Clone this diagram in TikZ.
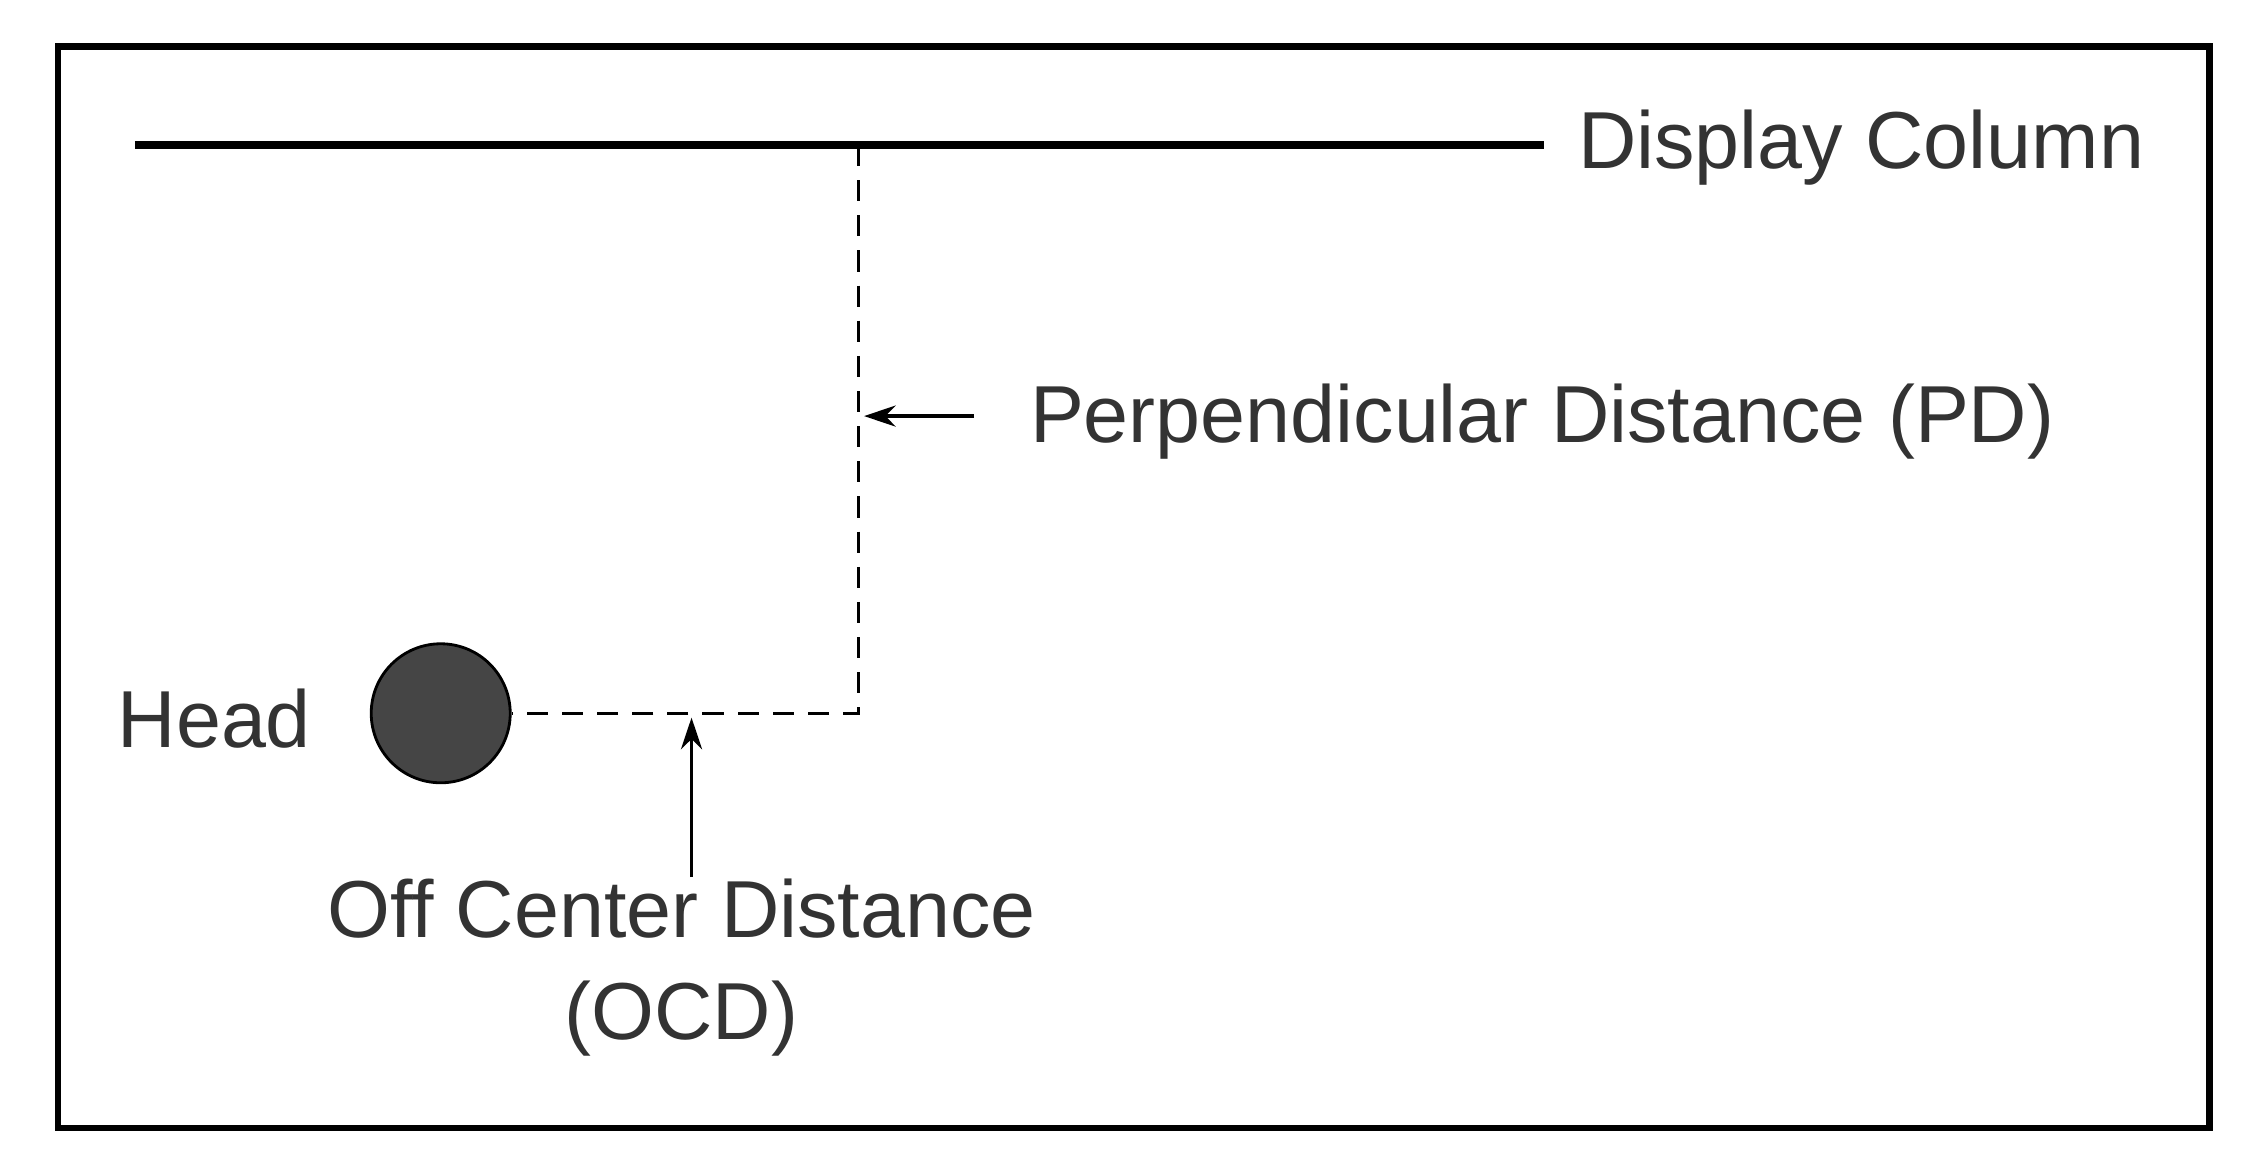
\documentclass[tikz,border=0pt]{standalone}
\usepackage{fontspec}
\setmainfont{Liberation Sans}
\usetikzlibrary{arrows.meta}
\begin{document}
\begin{tikzpicture}[x=0.014497cm,y=-0.014497cm,
  lbl/.style={font=\fontsize{23}{27}\selectfont,text=black!80,inner sep=0pt},
  dsh/.style={line width=1pt,dash pattern=on 6pt off 4pt},
  arr/.style={-{Stealth[length=9pt,width=6pt]},line width=1pt}]
\useasboundingbox (0,0) rectangle (1552,795);
\fill[white] (0,0) rectangle (1552,795);
\draw[line width=1.8pt] (40,32) rectangle (1524,778);
\coordinate (l1) at (93,100);
\coordinate (l2) at (1065,100);
\coordinate (top) at (592,100);
\coordinate (corner) at (592,492);
\draw[line width=2.2pt] (l1) -- (l2);
\node[lbl,anchor=west] (dc) at (1088,102) {Display Column};
\node[circle,draw,line width=0.8pt,fill=black!73,inner sep=0pt,minimum size=1.39cm] (head) at (304,492) {};
\node[lbl,anchor=east] (hl) at (215,496) {Head};
\draw[dsh] (top) -- (corner) -- (head.east);
\coordinate (pdt) at (596,287);
\coordinate (pds) at (672,287);
\draw[arr] (pds) -- (pdt);
\node[lbl,anchor=west] (pd) at (710,291) {Perpendicular Distance (PD)};
\coordinate (ocdt) at (477,495);
\coordinate (ocds) at (477,605);
\draw[arr] (ocds) -- (ocdt);
\node[lbl,align=center,anchor=north] (ocd) at (470,606) {Off Center Distance\\[2pt](OCD)};
\end{tikzpicture}
\end{document}
